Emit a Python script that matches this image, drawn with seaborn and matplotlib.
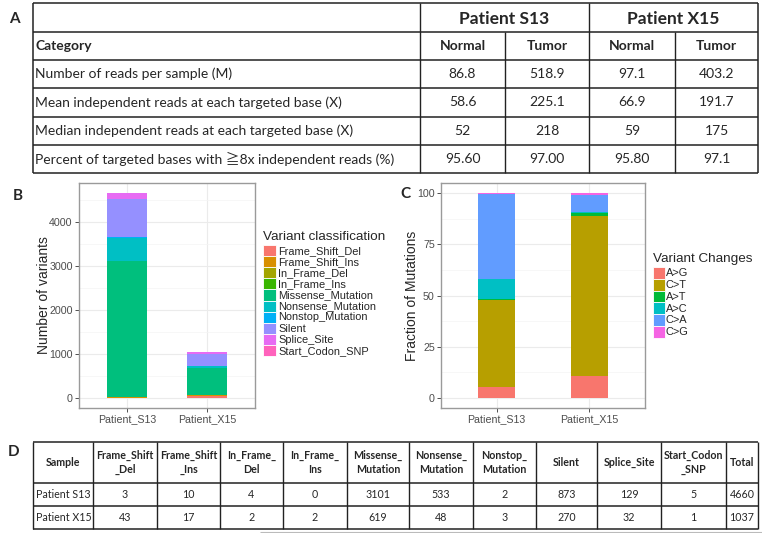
import numpy as np
import pandas as pd
import matplotlib
matplotlib.use("Agg")
import matplotlib.pyplot as plt
from matplotlib.patches import Rectangle
from matplotlib.ticker import MultipleLocator
import seaborn as sns

# ---------------- data ----------------
patients = ["Patient_S13", "Patient_X15"]

variant_classes = ["Frame_Shift_Del", "Frame_Shift_Ins", "In_Frame_Del", "In_Frame_Ins",
                   "Missense_Mutation", "Nonsense_Mutation", "Nonstop_Mutation", "Silent",
                   "Splice_Site", "Start_Codon_SNP"]
s13_counts = [3, 10, 4, 0, 3101, 533, 2, 873, 129, 5]
x15_counts = [43, 17, 2, 2, 619, 48, 3, 270, 32, 1]
totals = [4660, 1037]

change_types = ["A>G", "C>T", "A>T", "A>C", "C>A", "C>G"]
s13_fraction = [5.5, 42.1, 0.9, 9.7, 41.4, 0.4]
x15_fraction = [10.8, 78.1, 1.6, 0.3, 8.5, 0.7]

table_a_patients = ["Patient S13", "Patient X15"]
table_a_samples = ["Normal", "Tumor", "Normal", "Tumor"]
table_a_categories = ["Number of reads per sample (M)",
                      "Mean independent reads at each targeted base (X)",
                      "Median independent reads at each targeted base (X)",
                      "Percent of targeted bases with \u22678x independent reads (%)"]
table_a_values = [["86.8", "518.9", "97.1", "403.2"],
                  ["58.6", "225.1", "66.9", "191.7"],
                  ["52", "218", "59", "175"],
                  ["95.60", "97.00", "95.80", "97.1"]]

table_d_headers = ["Sample", "Frame_Shift\n_Del", "Frame_Shift\n_Ins", "In_Frame_\nDel",
                   "In_Frame_\nIns", "Missense_\nMutation", "Nonsense_\nMutation",
                   "Nonstop_\nMutation", "Silent", "Splice_Site", "Start_Codon\n_SNP", "Total"]
table_d_samples = ["Patient S13", "Patient X15"]

pal10 = ["#F8766D", "#D89000", "#A3A500", "#39B600", "#00BF7D",
         "#00BFC4", "#00B0F6", "#9590FF", "#E76BF3", "#FF62BC"]
pal6 = ["#F8766D", "#B79F00", "#00BA38", "#00BFC4", "#619CFF", "#F564E3"]

# ---------------- style ----------------
sns.set_style("white")
plt.rcParams["font.family"] = ["Liberation Sans", "DejaVu Sans"]
TBL = ["Lato", "Noto Sans CJK JP", "DejaVu Sans"]

W, H = 762, 533
fig = plt.figure(figsize=(W / 100, H / 100), dpi=100)

# overlay axes in pixel coordinates (tables, legends, panel letters)
ov = fig.add_axes([0, 0, 1, 1])
ov.set_xlim(0, W)
ov.set_ylim(H, 0)
ov.axis("off")
ov.patch.set_alpha(0)

LC = "#222222"
def hline(y, x0, x1, lw=1.0, c=LC):
    ov.plot([x0, x1], [y, y], color=c, lw=lw, solid_capstyle="butt")
def vline(x, y0, y1, lw=1.0, c=LC):
    ov.plot([x, x], [y0, y1], color=c, lw=lw, solid_capstyle="butt")

# ---------------- Table A ----------------
a_cols = [33, 420, 505, 589, 675, 758]
a_rows = [3, 32, 60, 88, 117, 145, 173]
for y in a_rows:
    hline(y, a_cols[0], a_cols[-1], lw=1.1)
vline(a_cols[0], a_rows[0], a_rows[-1], lw=1.1)
vline(a_cols[-1], a_rows[0], a_rows[-1], lw=1.1)
vline(a_cols[1], a_rows[0], a_rows[-1])
vline(a_cols[3], a_rows[0], a_rows[-1])
vline(a_cols[2], a_rows[1], a_rows[-1])
vline(a_cols[4], a_rows[1], a_rows[-1])

ov.text(9, 19, "A", fontsize=11, fontweight="bold", family=TBL, ha="left", va="center")
for i, p in enumerate(table_a_patients):
    xc = (a_cols[1 + 2 * i] + a_cols[3 + 2 * i]) / 2
    ov.text(xc, (a_rows[0] + a_rows[1]) / 2 + 1, p, fontsize=12.5, fontweight="bold",
            family=TBL, ha="center", va="center")
ov.text(35, (a_rows[1] + a_rows[2]) / 2, "Category", fontsize=10, fontweight="bold",
        family=TBL, ha="left", va="center")
for j, s in enumerate(table_a_samples):
    xc = (a_cols[1 + j] + a_cols[2 + j]) / 2
    ov.text(xc, (a_rows[1] + a_rows[2]) / 2, s, fontsize=10, fontweight="bold",
            family=TBL, ha="center", va="center")
for r, (cat, vals) in enumerate(zip(table_a_categories, table_a_values)):
    yc = (a_rows[2 + r] + a_rows[3 + r]) / 2
    ov.text(35, yc, cat, fontsize=10, family=TBL, ha="left", va="center")
    for j, v in enumerate(vals):
        xc = (a_cols[1 + j] + a_cols[2 + j]) / 2
        ov.text(xc, yc, v, fontsize=10, family=TBL, ha="center", va="center")

# ---------------- Table D ----------------
d_cols = [33, 93, 157, 220, 283, 347, 409, 473, 536, 597, 661, 726, 758]
d_rows = [442, 483, 506, 529]
for y in d_rows:
    hline(y, d_cols[0], d_cols[-1], lw=1.1)
for x in d_cols:
    vline(x, d_rows[0], d_rows[-1], lw=1.0)
hline(532, 260, 762, lw=0.8, c="#BBBBBB")
ov.text(8, 452, "D", fontsize=11, fontweight="bold", family=TBL, ha="left", va="center")
for j, h in enumerate(table_d_headers):
    xc = (d_cols[j] + d_cols[j + 1]) / 2
    ov.text(xc, (d_rows[0] + d_rows[1]) / 2, h, fontsize=7.7, fontweight="bold",
            family=TBL, ha="center", va="center", linespacing=1.35)
for r, (name, counts, tot) in enumerate(zip(table_d_samples, [s13_counts, x15_counts], totals)):
    yc = (d_rows[1 + r] + d_rows[2 + r]) / 2
    ov.text(36, yc, name, fontsize=7.7, family=TBL, ha="left", va="center")
    for j, v in enumerate(list(counts) + [tot]):
        xc = (d_cols[1 + j] + d_cols[2 + j]) / 2
        ov.text(xc, yc, str(v), fontsize=7.7, family=TBL, ha="center", va="center")

# ---------------- stacked bar helper ----------------
def stacked(ax, cats, matrix, colors, width):
    cum = np.cumsum(np.asarray(matrix, dtype=float), axis=1)
    for j in reversed(range(cum.shape[1])):
        df = pd.DataFrame({"x": cats, "y": cum[:, j]})
        sns.barplot(data=df, x="x", y="y", color=colors[j], width=width, saturation=1,
                    errorbar=None, linewidth=0, edgecolor="none", ax=ax)

def style_ax(ax, ymin, ymax, major, minor, ylabel, label_x):
    ax.set_xlim(-0.6, 1.6)
    ax.set_ylim(ymin, ymax)
    ax.yaxis.set_major_locator(MultipleLocator(major))
    ax.yaxis.set_minor_locator(MultipleLocator(minor))
    ax.set_axisbelow(True)
    ax.grid(which="major", color="#EBEBEB", lw=0.8)
    ax.grid(which="minor", axis="y", color="#F4F4F4", lw=0.5)
    for sp in ax.spines.values():
        sp.set_color("#9A9A9A")
        sp.set_linewidth(1.0)
        sp.set_visible(True)
    ax.tick_params(which="major", length=3, width=0.6, color="#333333", labelsize=7.7,
                   labelcolor="#4D4D4D", pad=1.5, left=True, bottom=True)
    ax.tick_params(which="minor", length=0)
    ax.set_xlabel("")
    ax.set_ylabel(ylabel, fontsize=10)
    ax.yaxis.set_label_coords(label_x, 0.5)

# ---------------- Panel B ----------------
axB = fig.add_axes([79 / W, 1 - 408 / H, 176 / W, 225 / H])
stacked(axB, patients, [s13_counts, x15_counts], pal10, 0.5)
style_ax(axB, -233, 4893, 1000, 500, "Number of variants", (51.5 - 79) / 176)
ov.text(13, 196, "B", fontsize=11, fontweight="bold", family=TBL, ha="left", va="center")

ov.text(263, 237, "Variant classification", fontsize=9.7, ha="left", va="center")
for i, (lab, c) in enumerate(zip(variant_classes, pal10)):
    y0 = 245 + i * 11.1
    ov.add_patch(Rectangle((263, y0), 13, 11.1, facecolor=c, edgecolor="white", lw=0.6))
    ov.text(278, y0 + 5.8, lab, fontsize=7.9, ha="left", va="center")

# ---------------- Panel C ----------------
axC = fig.add_axes([441 / W, 1 - 408 / H, 204 / W, 225 / H])
stacked(axC, patients, [s13_fraction, x15_fraction], pal6, 0.4)
style_ax(axC, -5, 105, 25, 12.5, "Fraction of Mutations", (418.5 - 441) / 204)
ov.text(400, 194, "C", fontsize=11, fontweight="bold", family=TBL, ha="left", va="center")

ov.text(653, 259, "Variant Changes", fontsize=9.7, ha="left", va="center")
for i, (lab, c) in enumerate(zip(change_types, pal6)):
    y0 = 267 + i * 11.8
    ov.add_patch(Rectangle((653, y0), 12, 11.8, facecolor=c, edgecolor="white", lw=0.6))
    ov.text(666, y0 + 6.2, lab, fontsize=7.9, ha="left", va="center")

fig.savefig("out.png", dpi=100)
